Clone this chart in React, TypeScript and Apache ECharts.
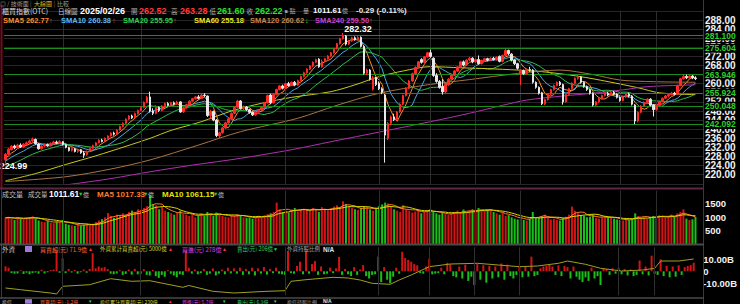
import { useEffect, useRef } from "react";
import * as echarts from "echarts";

// [open, close, low, high]
const candles: number[][] = [
  [226.5,229.0,224.99,229.5],[229.0,231.2,228.6,231.8],[231.0,232.5,230.6,233.0],[232.6,231.8,231.2,233.2],[231.8,233.0,231.4,233.6],
  [233.0,232.2,231.8,233.8],[232.2,233.4,231.9,233.9],[233.3,234.0,232.8,234.6],[234.0,234.8,233.5,235.4],[234.8,235.6,234.2,236.3],
  [235.5,233.6,233.2,235.9],[233.5,231.4,231.0,233.8],[231.5,232.6,231.0,233.0],[232.6,233.3,232.1,233.8],[233.2,232.7,232.3,233.7],
  [232.8,233.6,232.5,234.2],[233.6,234.4,233.2,234.9],[234.3,233.9,233.4,235.0],[234.0,234.6,233.6,235.2],[234.5,233.2,232.8,234.8],
  [233.2,232.0,231.6,233.6],[232.0,230.6,230.2,232.3],[230.7,231.5,230.2,232.0],[231.4,230.2,229.8,231.8],[230.3,231.0,229.6,231.5],
  [231.0,229.6,229.2,231.3],[229.5,228.6,227.4,230.4],[228.8,230.2,228.4,230.6],[230.3,231.6,230.0,232.0],[231.6,232.8,231.3,233.2],
  [232.8,234.0,232.4,234.4],[234.0,235.2,233.8,235.6],[235.2,234.6,234.2,235.8],[234.7,236.0,234.4,236.4],[236.0,237.0,235.6,237.4],
  [237.0,238.3,236.8,238.7],[238.3,237.8,237.2,238.9],[237.8,239.6,237.6,240.0],[239.6,241.2,239.3,241.6],[241.2,242.6,240.8,243.0],
  [242.6,244.4,242.2,244.8],[244.4,245.8,244.0,246.2],[245.8,245.0,244.5,246.4],[245.0,246.9,244.8,247.3],[246.9,248.2,246.5,248.6],
  [248.2,249.6,247.9,250.0],[249.6,251.8,249.2,252.2],[251.8,254.0,251.5,254.6],[254.2,248.0,247.4,256.5],[248.0,247.0,246.2,249.2],
  [247.0,249.6,246.6,250.4],[249.6,248.2,247.6,250.0],[248.2,250.2,247.9,250.6],[250.2,251.3,249.8,251.7],[251.3,250.4,250.0,251.9],
  [250.5,251.6,250.1,252.0],[251.6,251.0,250.5,252.2],[251.0,252.0,250.7,252.5],[252.0,247.6,247.2,252.3],[247.6,249.4,247.2,249.8],
  [249.4,250.8,249.0,251.2],[250.8,252.3,250.5,252.7],[252.3,253.4,252.0,253.8],[253.4,254.2,253.0,254.6],[254.2,253.6,253.1,255.0],
  [253.6,255.0,253.3,255.5],[255.0,254.8,254.2,255.8],[254.6,246.0,245.4,254.8],[246.0,247.8,244.6,248.6],[247.8,244.0,243.5,248.2],
  [244.0,237.2,236.5,244.5],[237.0,238.4,235.8,238.9],[238.4,240.6,238.0,241.0],[240.6,242.8,240.2,243.2],[242.8,244.6,242.3,245.0],
  [244.6,247.0,244.2,247.4],[247.0,249.6,246.6,250.0],[249.6,252.4,249.2,252.9],[252.4,249.2,248.7,252.8],[249.2,249.8,248.4,250.4],
  [249.8,248.6,248.0,250.2],[248.6,247.4,246.8,249.0],[247.4,246.3,245.8,247.8],[246.3,247.5,245.9,247.9],[247.5,248.4,247.1,248.8],
  [248.4,249.6,248.0,250.0],[249.6,251.6,249.2,252.0],[251.6,254.8,251.3,255.2],[255.0,251.6,251.0,255.6],[251.6,255.2,251.3,255.6],
  [255.2,257.4,254.9,257.8],[257.4,259.0,257.0,259.4],[259.0,258.0,257.5,259.6],[258.0,260.0,257.7,260.4],[260.0,259.2,258.7,260.8],
  [259.2,260.6,258.9,261.0],[260.6,259.4,258.9,261.2],[259.4,261.4,259.0,261.8],[261.4,263.2,261.0,263.6],[263.2,264.8,262.8,265.3],
  [264.8,266.4,264.4,266.8],[266.4,267.8,266.0,268.2],[267.8,269.4,267.4,269.8],[269.4,270.6,269.0,271.0],[270.8,267.4,267.0,271.2],
  [267.4,269.8,267.0,270.6],[269.8,271.0,269.4,271.4],[271.0,272.2,270.6,272.6],[272.2,273.6,271.8,274.0],[273.6,275.4,273.2,275.8],
  [275.4,277.6,275.0,278.0],[277.6,279.8,277.2,280.2],[279.8,281.0,279.4,282.32],[281.0,277.4,276.8,281.4],[277.4,278.8,277.0,279.3],
  [278.8,280.2,278.4,280.6],[280.2,279.4,278.9,280.8],[279.4,280.4,279.0,280.9],[280.4,276.4,275.9,280.8],[276.4,264.6,264.0,276.8],
  [264.6,266.0,263.8,266.6],[266.0,262.0,261.4,266.4],[257.6,262.6,257.0,263.4],[262.6,259.6,259.0,263.0],[260.2,257.8,257.2,261.0],
  [257.8,256.2,255.4,258.4],[255.0,237.4,225.3,255.4],[236.0,242.6,235.2,243.2],[242.6,245.4,241.8,246.0],[245.4,244.2,243.6,246.8],
  [244.2,247.6,243.8,248.0],[247.6,251.0,247.2,251.4],[251.0,254.8,250.6,255.2],[254.8,258.0,254.4,258.4],[258.0,261.2,257.6,261.6],
  [261.2,264.4,260.8,264.8],[264.4,267.2,264.0,267.6],[267.2,269.6,266.8,270.0],[270.6,269.4,268.8,271.2],[269.4,271.8,269.0,272.2],
  [271.8,273.6,271.4,274.0],[273.6,272.0,271.4,275.0],[271.2,263.6,263.0,271.6],[263.6,261.0,260.4,264.6],[261.0,258.4,257.8,261.6],
  [258.8,256.4,255.2,262.0],[256.4,259.6,255.8,260.0],[259.6,262.0,259.2,262.4],[262.0,263.8,261.6,264.2],[263.8,265.6,263.4,266.0],
  [265.6,267.4,265.2,267.8],[267.4,269.6,267.0,270.0],[269.6,268.2,267.6,270.2],[268.2,270.4,267.8,270.8],[270.4,271.2,269.8,271.8],
  [271.2,269.6,269.0,271.6],[269.6,270.6,269.2,271.0],[270.6,268.8,268.4,272.4],[268.8,270.2,268.4,270.6],[270.2,271.0,269.8,271.4],
  [271.0,270.4,269.8,271.4],[270.4,271.2,270.0,271.6],[271.2,270.6,270.2,271.8],[270.6,271.6,270.2,272.0],[272.0,269.8,269.4,272.4],
  [269.8,272.4,269.4,272.8],[272.4,274.6,272.0,275.6],[274.6,273.2,272.6,275.0],[273.0,270.4,269.8,273.4],[270.4,268.8,268.2,270.8],
  [268.8,266.8,266.2,269.2],[264.6,265.8,259.4,266.4],[265.8,264.4,263.8,266.2],[264.4,266.2,264.0,266.6],[266.2,266.0,265.2,267.4],
  [266.0,260.6,260.0,266.4],[260.6,258.4,257.8,261.0],[258.4,255.8,255.2,258.8],[256.0,251.2,250.6,256.4],[251.2,253.0,250.6,253.4],
  [253.0,255.4,252.6,255.8],[255.4,257.4,255.0,257.8],[257.4,259.2,257.0,259.6],[259.2,260.6,258.8,261.0],[260.6,259.6,259.0,261.2],
  [259.6,252.0,250.8,260.0],[252.0,255.2,251.6,255.6],[255.2,257.8,254.8,258.2],[257.8,260.2,257.4,260.6],[260.2,262.4,259.8,262.8],
  [262.4,263.2,261.8,263.8],[263.0,260.6,260.0,263.4],[260.6,258.8,258.2,261.0],[258.8,257.4,256.8,259.2],[257.4,255.8,255.2,257.8],
  [255.8,250.6,250.0,256.2],[250.6,252.0,250.2,252.4],[252.0,253.4,251.6,253.8],[253.4,254.8,253.0,255.2],[254.8,255.8,254.4,256.2],
  [255.8,255.0,254.5,256.4],[255.0,256.2,254.6,256.6],[256.2,255.4,254.9,256.8],[255.4,254.0,253.5,255.8],[254.0,252.6,252.1,254.4],
  [252.6,254.2,252.2,254.6],[254.2,255.4,253.8,255.8],[255.4,254.6,254.0,256.0],[254.6,251.0,250.4,255.0],[250.6,243.6,242.2,251.0],
  [243.6,247.4,243.0,247.8],[247.4,250.2,247.0,250.6],[250.2,251.8,249.8,252.2],[251.8,253.2,251.4,253.6],[253.2,250.6,250.0,253.6],
  [250.6,248.6,245.6,251.0],[248.6,250.4,248.2,250.8],[250.4,252.2,250.0,252.6],[252.2,253.6,251.8,254.0],[253.6,254.6,253.2,255.0],
  [254.6,255.2,254.0,255.6],[255.2,255.8,254.8,256.4],[255.8,255.4,254.9,256.4],[255.4,259.2,255.0,259.6],[259.2,262.2,258.8,262.6],
  [262.2,263.2,261.8,264.2],[263.2,262.6,262.0,264.0],[262.6,263.4,262.2,264.0],[263.4,262.51,262.0,263.8],[262.52,262.22,261.60,263.28],
];

const priorCloses = [221.5,220.8,222.4,221.0,219.6,219.0,220.6,221.8,223.4,222.6,221.8,223.8,225.0,226.2,225.4,227.0,226.0,227.8,227.2];

// 億
const volumes = [
  980,1020,950,900,1000,960,930,990,1010,1040,
  960,880,840,820,870,800,780,850,820,900,
  760,720,700,680,740,690,720,760,700,760,
  820,880,930,1000,1160,1050,980,1100,1080,1150,
  1100,1200,1250,1180,1300,1280,1350,1420,1830,1500,
  1450,1300,1380,1250,1200,1150,1100,1180,1250,1120,
  1100,1050,1120,1000,1080,1150,1060,1200,1150,1050,
  1180,1100,1050,1020,1000,1080,1060,1120,1050,1000,
  980,1000,950,1020,1060,1000,1080,1120,1150,1200,
  1550,1300,1200,1250,1180,1300,1350,1220,1280,1320,
  1300,1250,1350,1280,1200,1380,1300,1260,1340,1400,
  1450,1380,1600,1500,1400,1350,1300,1280,1350,1400,
  1380,1300,1250,1350,1420,1480,1550,1520,1400,1300,
  1250,1200,1460,1300,1250,1180,1220,1280,1150,1200,
  1250,1300,1200,1150,1100,1180,1120,1090,1150,1200,
  1250,1200,1290,1180,1260,1300,1220,1350,1280,1250,
  1300,1280,1200,1150,1100,1180,1050,1080,1000,950,
  920,1000,900,880,950,1200,980,1000,1050,1100,
  980,920,950,900,880,980,1020,1100,1400,1250,
  1150,1080,1050,1000,1020,1100,980,950,1000,1040,
  1000,980,950,920,900,880,940,900,950,1150,
  1050,980,1000,950,1020,1050,1000,1080,1050,1000,
  1050,1100,1020,1150,1204.85,1300,950,900,925.04,1011.61,
];
const priorVolumes = [950,1000,980,940,1020,990,960,1010,970];

// foreign net buy, 億
const foreignNet = [
  42,30,-15,-20,-18,8,-22,-12,-25,-15,
  -10,-20,13,-18,-8,10,15,167,-12,108,
  -15,20,-10,12,-20,-8,15,-12,20,150,
  25,40,30,35,18,-20,-25,-18,10,-30,
  -22,15,-28,20,-25,-20,18,-30,-35,12,
  -40,-55,-30,-45,10,-20,-35,-50,-25,-30,
  167,30,-20,15,-25,-15,20,-30,-20,25,
  -35,-20,15,-25,30,-18,25,-20,30,-30,
  20,-25,30,-35,25,-20,35,-28,20,-15,
  30,-20,-25,-30,167,-15,-20,45,80,-25,
  167,-20,60,85,-30,40,-25,-20,30,-15,
  25,120,-30,20,-25,-40,35,-30,15,52,
  -40,-60,-30,-25,122,-90,35,-70,-100,-45,
  30,-20,163,110,95,80,60,50,-15,-20,
  40,105,-25,-20,-15,30,-25,70,60,-40,
  -50,40,-60,55,-80,-45,-115,60,-70,50,
  -95,45,-60,40,-50,65,-70,55,-40,-60,
  -30,40,-50,35,-45,122,-40,-30,25,40,
  45,55,40,-30,50,-40,45,35,-60,40,
  -45,-70,-90,-50,-80,30,-60,-40,-115,25,
  20,-30,25,-20,30,-25,20,-35,15,-40,
  -30,90,-25,40,-35,130,-20,-30,100,-40,
  45,-50,40,-45,50,-30,35,45,52,71.9,
];

// foreign cumulative (億), read at sample days [index, value]
const foreignCumPts: number[][] = [
  [0,-1900],[5,-2070],[15,-2400],[17,-2500],[19,-1730],[28,-1570],[35,-970],[42,-1230],[48,-1170],
  [59,-1830],[61,-1650],[69,-2230],[76,-2400],[87,-2230],[93,-2170],[95,-1230],[100,-1070],[109,-830],
  [114,-900],[118,-1100],[122,-1430],[128,-1530],[131,-1100],[135,-600],[141,230],[148,500],[157,570],
  [164,400],[171,230],[177,300],[184,570],[187,800],[193,470],[198,70],[205,-200],[212,-100],[216,70],
  [218,800],[224,800],[229,1000],
];

const sma60Pts: number[][] = [
  [0,217.3],[10,220.5],[20,224.5],[30,228.3],[40,232.5],[48,236.0],[55,239.5],[65,243.3],[75,248.0],
  [85,251.4],[95,254.0],[108,256.5],[116,259.5],[124,263.1],[132,265.6],[141,267.5],[151,267.0],
  [160,266.6],[170,266.0],[178,265.3],[190,263.3],[200,260.9],[210,258.2],[217,256.0],[229,255.18],
];
const sma120Pts: number[][] = [
  [0,217.0],[20,219.1],[35,222.5],[48,226.5],[64,233.0],[78,238.9],[97,244.8],[110,250.5],[124,255.8],
  [140,259.5],[154,261.8],[170,264.5],[184,266.0],[195,264.0],[204,261.6],[215,260.9],[229,260.62],
];
const sma240Pts: number[][] = [
  [0,212.5],[10,214.0],[20,215.5],[35,218.3],[48,221.3],[62,224.2],[78,227.2],[95,231.0],[108,234.5],
  [125,239.0],[141,243.3],[154,247.0],[165,250.5],[173,252.8],[185,254.6],[195,255.8],[205,257.3],
  [213,258.7],[229,259.5],
];

const levelLines = [281.1, 275.604, 263.946, 255.924, 250.048, 242.092];
const sepIdx = [19, 45, 93, 124, 141, 156, 171, 204, 216];

const NUM = "'Liberation Sans', Arial, sans-serif";
const CJK = "'Noto Sans CJK TC', 'Noto Sans', sans-serif";

function movingAvg(series: number[], prior: number[], n: number) {
  const all = prior.concat(series);
  const out: number[] = [];
  for (let i = 0; i < series.length; i++) {
    const end = prior.length + i;
    const start = Math.max(0, end - n + 1);
    let s = 0;
    for (let k = start; k <= end; k++) s += all[k];
    out.push(+(s / (end - start + 1)).toFixed(3));
  }
  return out;
}

function sparse(pts: number[][], len: number) {
  const a: (number | null)[] = new Array(len).fill(null);
  pts.forEach(([i, v]) => { a[i] = v; });
  return a;
}

function T(x: number, y: number, text: string, fill: string, size = 8, bold = false, family = CJK) {
  return {
    type: "text", x, y, silent: true, z: 100,
    style: { text, fill, fontSize: size, fontWeight: bold ? "bold" : "normal", fontFamily: family, verticalAlign: "middle" },
  };
}
function L(x1: number, y1: number, x2: number, y2: number, stroke: string, w = 1) {
  return { type: "line", silent: true, z: 90, shape: { x1, y1, x2, y2 }, style: { stroke, lineWidth: w } };
}

export default function App() {
  const ref = useRef<HTMLDivElement>(null);
  useEffect(() => {
    if (!ref.current) return;
    const chart = echarts.init(ref.current, undefined, { renderer: "svg" });
    const n = candles.length;
    const cats = Array.from({ length: n + 2 }, (_, i) => String(i + 1));
    const closes = candles.map((c) => c[1]);
    const ma5 = movingAvg(closes, priorCloses, 5);
    const ma10 = movingAvg(closes, priorCloses, 10);
    const ma20 = movingAvg(closes, priorCloses, 20);
    const vma5 = movingAvg(volumes, priorVolumes, 5);
    const vma10 = movingAvg(volumes, priorVolumes, 10);
    let maxIdx = 0, minIdx = 0;
    candles.forEach((c, i) => {
      if (c[3] > candles[maxIdx][3]) maxIdx = i;
      if (c[2] < candles[minIdx][2]) minIdx = i;
    });
    const UP = "#ff2a2a", DOWN = "#e8e8e8";
    const VUP = "#d41414", VDN = "#18c018";
    const vert = (color: string) => sepIdx.map((i) => ({ xAxis: cats[i], lineStyle: { color, width: 1, type: "solid" }, label: { show: false } }));
    const axisHidden = { axisLine: { show: false }, axisTick: { show: false }, axisLabel: { show: false }, splitLine: { show: false } };
    const grids = [
      { left: 4, right: 37, top: 10.9, height: 172.9 },
      { left: 4, right: 37, top: 190.6, height: 53.4 },
      { left: 4, right: 37, top: 247.3, height: 48 },
    ];
    const lineS = (name: string, data: any[], color: string, xi = 0, yi = 0, extra: any = {}) => ({
      name, type: "line", data, xAxisIndex: xi, yAxisIndex: yi, symbol: "none", silent: true,
      lineStyle: { color, width: 1 }, itemStyle: { color }, z: 3, ...extra,
    });

    const yT = 301.2;
    const graphics: any[] = [
      // panel borders
      L(1.5, 5, 1.5, 188, "#7a0a1a", 2),
      L(1.5, 189, 1.5, 299, "#3a3a3a", 1),
      L(703.5, 0, 703.5, 304, "#5a2a40", 1),
      L(0, 188.5, 704, 188.5, "#5c2840", 2),
      L(0, 244.5, 704, 244.5, "#4a4a4a", 2),
      L(0, 298, 704, 298, "#4a4a4a", 1.5),
      // header row 1
      T(0, 3.2, "◎", "#9a9a9a", 6),
      T(7, 3.2, "/ 技術面", "#9a9a9a", 6),
      T(30, 3.2, "|", "#707070", 6),
      T(34, 3.2, "大綜圖", "#e8c020", 6),
      T(53.5, 3.2, "|", "#707070", 6),
      T(57, 3.2, "比較", "#9a9a9a", 6),
      // header row 2
      T(2, 10.5, "櫃買指數(OTC)", "#d8d8d8", 7),
      T(58, 10.5, "日線圖", "#c8c8c8", 6.5),
      T(80, 10.5, "2025/02/26", "#ffffff", 9, true, NUM),
      T(131, 10.5, "開", "#b0b0b0", 6.5),
      T(139, 10.5, "262.52", "#ff3a3a", 9, true, NUM),
      T(171, 10.5, "高", "#b0b0b0", 6.5),
      T(180, 10.5, "263.28", "#ff3a3a", 9, true, NUM),
      T(209.5, 10.5, "低", "#b0b0b0", 6.5),
      T(217, 10.5, "261.60", "#2ee02e", 9, true, NUM),
      T(246.5, 10.5, "收", "#b0b0b0", 6.5),
      T(255, 10.5, "262.22", "#2ee02e", 9, true, NUM),
      T(284.5, 10.5, "s", "#e0e0e0", 6, true, NUM),
      T(289.5, 10.5, "點", "#b0b0b0", 6),
      T(303, 10.5, "量", "#b0b0b0", 6),
      T(313, 10.5, "1011.61", "#ffffff", 8, true, NUM),
      T(342, 10.5, "億", "#b0b0b0", 6),
      T(356, 10.5, "-0.29 (-0.11%)", "#e8e8e8", 8, true, NUM),
      // header row 3: SMA legend
      T(3, 20, "SMA5 262.77", "#ff8c2a", 7.5, true, NUM), T(49, 20, "↑", "#ff3030", 7.5, true, NUM),
      T(61, 20, "SMA10 260.38", "#58b8f0", 7.5, true, NUM), T(112, 20, "↑", "#ff3030", 7.5, true, NUM),
      T(123, 20, "SMA20 255.95", "#2fd04f", 7.5, true, NUM), T(173, 20, "↑", "#ff3030", 7.5, true, NUM),
      T(194, 20, "SMA60 255.18", "#e8e820", 7.5, true, NUM), T(242, 20, "↑", "#ff3030", 7.5, true, NUM),
      T(250, 20, "SMA120 260.62", "#c8864a", 7.5, true, NUM), T(305, 20, "↓", "#2ee02e", 7.5, true, NUM),
      T(315, 20, "SMA240 259.50", "#d040d0", 7.5, true, NUM), T(369, 20, "↑", "#ff3030", 7.5, true, NUM),
      // volume title
      T(2, 194, "成交量", "#c0c0c0", 7),
      T(28, 194, "成交量", "#c0c0c0", 6.5),
      T(49, 194, "1011.61", "#ffffff", 8.5, true, NUM),
      T(78, 194, "▼", "#20d020", 5.5, false, NUM), T(83, 194, "億", "#c0c0c0", 6),
      T(97, 194, "MA5 1017.33", "#ff7a2a", 8, true, NUM),
      T(143, 194, "▼", "#20d020", 5.5, false, NUM), T(148, 194, "億", "#c0c0c0", 6),
      T(162, 194, "MA10 1061.15", "#e6e600", 8, true, NUM),
      T(213, 194, "▼", "#20d020", 5.5, false, NUM), T(218, 194, "億", "#c0c0c0", 6),
      // foreign title
      T(2, 249, "外資", "#c8c8c8", 6.5),
      { type: "rect", silent: true, z: 100, shape: { x: 25, y: 246, width: 7, height: 6 }, style: { fill: "#9a7ad8" } },
      T(40, 249, "買賣超(元) 71.9億", "#ff6a3a", 6), T(88, 249, "▲", "#ff3030", 5, false, NUM),
      T(100, 249, "外資累計買賣超(元) 5000億", "#d8d830", 5.5), T(168, 249, "▲", "#ff3030", 5, false, NUM),
      T(182, 249, "買進(元) 278億", "#e040e0", 6), T(222, 249, "▲", "#ff3030", 5, false, NUM),
      T(237, 249, "賣出(元) 206億", "#30d060", 5.5), T(273, 249, "▼", "#30d060", 5, false, NUM),
      T(287, 249, "外資持股比例", "#a8a8a8", 5.5), T(323, 249, "N/A", "#e0e0e0", 6.5, true, NUM),
      // bottom title
      T(2, yT, "投信", "#c8c8c8", 5),
      { type: "rect", silent: true, z: 100, shape: { x: 25, y: 299.2, width: 7, height: 4.5 }, style: { fill: "#9a7ad8" } },
      T(40, yT, "買賣超(元) -1.2億", "#ff6a3a", 5), T(88, yT, "▼", "#30d060", 4.5, false, NUM),
      T(100, yT, "投信累計買賣超(元) 230億", "#d8d830", 5), T(168, yT, "▲", "#ff3030", 4.5, false, NUM),
      T(182, yT, "買進(元) 5.7億", "#e040e0", 5), T(222, yT, "▼", "#30d060", 4.5, false, NUM),
      T(237, yT, "賣出(元) 6.9億", "#30d060", 5), T(273, yT, "▼", "#30d060", 4.5, false, NUM),
      T(287, yT, "投信持股比例", "#a8a8a8", 5), T(323, yT, "N/A", "#e0e0e0", 5, true, NUM),
    ];

    const option: any = {
      animation: false,
      backgroundColor: "#000000",
      grid: grids,
      xAxis: [0, 1, 2].map((g) => ({ type: "category", data: cats, gridIndex: g, boundaryGap: true, ...axisHidden })),
      yAxis: [
        {
          type: "value", gridIndex: 0, position: "right", min: 216, max: 292, interval: 4,
          axisLine: { show: false }, axisTick: { show: false },
          axisLabel: {
            color: "#f2f2f2", fontSize: 10, fontWeight: "bold", fontFamily: NUM, margin: 2,
            formatter: (v: number) => (v < 220 || v > 288 ? "" : v.toFixed(2)),
          },
          splitLine: { show: true, lineStyle: { color: "#262626", width: 1 } },
        },
        {
          type: "value", gridIndex: 1, position: "right", min: 0, max: 2000, interval: 500,
          axisLine: { show: false }, axisTick: { show: false }, splitLine: { show: false },
          axisLabel: {
            color: "#f2f2f2", fontSize: 9.5, fontWeight: "bold", fontFamily: NUM, margin: 2,
            formatter: (v: number) => (v > 0 && v < 2000 ? String(v) : ""),
          },
        },
        {
          type: "value", gridIndex: 2, position: "right", min: -200, max: 200, interval: 100,
          axisLine: { show: false }, axisTick: { show: false }, splitLine: { show: false },
          axisLabel: {
            color: "#f2f2f2", fontSize: 9.5, fontWeight: "bold", fontFamily: NUM, margin: 2,
            formatter: (v: number) => (v === 0 ? "0" : Math.abs(v) === 100 ? (v / 10).toFixed(2) + "B" : ""),
          },
        },
        { type: "value", gridIndex: 2, min: -2630, max: 2170, show: false, ...axisHidden },
      ],
      series: [
        {
          name: "K", type: "candlestick", xAxisIndex: 0, yAxisIndex: 0, data: candles, barWidth: 2, silent: true,
          itemStyle: { color: UP, color0: DOWN, borderColor: UP, borderColor0: DOWN, borderWidth: 1 },
          z: 5,
          markLine: {
            silent: true, symbol: ["none", "none"], animation: false, precision: 3,
            data: [
              ...vert("#2e2e2e"),
              ...levelLines.map((v) => ({
                yAxis: v, lineStyle: { color: "#1c8c1c", width: 1, type: "solid" },
                label: {
                  show: true, position: "end", distance: 2, color: "#2ed02e", fontSize: 8.5, fontWeight: "bold", fontFamily: NUM,
                  backgroundColor: "#000000", padding: [0, 2, 0, 0],
                  formatter: () => v.toFixed(3),
                },
              })),
            ],
          },
          markPoint: {
            silent: true, symbol: "circle", symbolSize: 1, itemStyle: { color: "rgba(0,0,0,0)" },
            data: [
              {
                coord: [cats[maxIdx], candles[maxIdx][3]], value: candles[maxIdx][3],
                label: { show: true, position: "top", distance: 1, offset: [15, 2], color: "#ffffff", fontSize: 9, fontWeight: "bold", fontFamily: NUM, formatter: (p: any) => Number(p.value).toFixed(2) },
              },
              {
                coord: [cats[minIdx], candles[minIdx][2]], value: candles[minIdx][2],
                label: { show: true, position: "bottom", distance: 0, offset: [8, -2], color: "#ffffff", fontSize: 9, fontWeight: "bold", fontFamily: NUM, formatter: (p: any) => Number(p.value).toFixed(2) },
              },
            ],
          },
        },
        lineS("SMA5", ma5, "#ff8c2a"),
        lineS("SMA10", ma10, "#4aa8e0"),
        lineS("SMA20", ma20, "#2fbf4f"),
        lineS("SMA60", sparse(sma60Pts, n), "#c8c820", 0, 0, { connectNulls: true, smooth: 0.3 }),
        lineS("SMA120", sparse(sma120Pts, n), "#a87440", 0, 0, { connectNulls: true, smooth: 0.3 }),
        lineS("SMA240", sparse(sma240Pts, n), "#b030b0", 0, 0, { connectNulls: true, smooth: 0.3 }),
        {
          name: "Vol", type: "bar", xAxisIndex: 1, yAxisIndex: 1, barWidth: 2, silent: true,
          data: volumes.map((v, i) => ({ value: v, itemStyle: { color: candles[i][1] >= candles[i][0] ? VUP : VDN } })),
          markLine: { silent: true, symbol: ["none", "none"], data: vert("#2e2e2e") },
        },
        lineS("VMA5", vma5, "#ff7a2a", 1, 1),
        lineS("VMA10", vma10, "#d8d800", 1, 1),
        {
          name: "Foreign", type: "bar", xAxisIndex: 2, yAxisIndex: 2, barWidth: 2, silent: true,
          data: foreignNet.map((v) => ({ value: v, itemStyle: { color: v >= 0 ? VUP : VDN } })),
          markLine: { silent: true, symbol: ["none", "none"], data: vert("#2e2e2e") },
        },
        lineS("ForeignCum", sparse(foreignCumPts, n), "#a0a020", 2, 3, { connectNulls: true }),
      ],
      graphic: graphics,
    };
    chart.setOption(option);
    return () => chart.dispose();
  }, []);
  return (
    <div
      ref={ref}
      style={{ position: "fixed", left: 0, top: 0, width: 740, height: 304, background: "#000" }}
    />
  );
}
